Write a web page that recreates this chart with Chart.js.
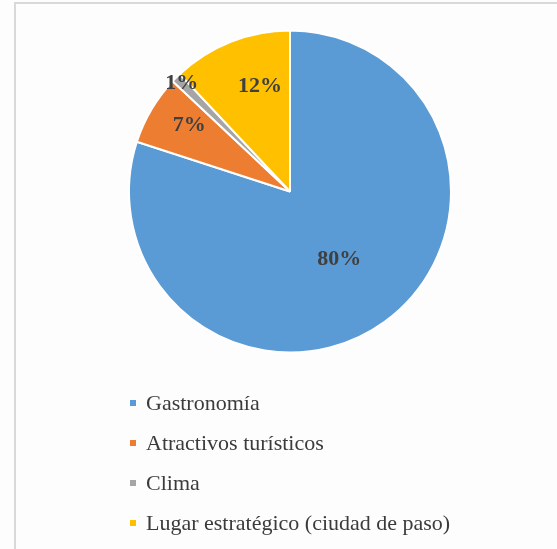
<!DOCTYPE html>
<html>
<head>
<meta charset="utf-8">
<script src="https://cdn.jsdelivr.net/npm/chart.js@4"></script>
<style>
  body { margin: 0; background: #fdfdfd; }
  #frame {
    position: absolute; left: 14px; top: 2px; width: 600px; height: 600px;
    border-left: 2px solid #d9d9d9; border-top: 2px solid #d9d9d9;
    box-sizing: border-box;
  }
  #wrap { position: absolute; left: 0; top: 0; width: 557px; height: 549px; }
  #legend {
    position: absolute; left: 130px; top: 383px;
    font-family: "Liberation Serif", serif; font-size: 22px; color: #3b3b3b;
  }
  .item { height: 40px; line-height: 40px; white-space: nowrap; }
  .box { display: inline-block; width: 6px; height: 6px; margin-right: 10px; vertical-align: middle; position: relative; top: -2px; }
</style>
</head>
<body>
<div id="frame"></div>
<div id="wrap"><canvas id="myChart" width="557" height="549"></canvas></div>
<div id="legend"></div>
<script>
const labels = ["Gastronomía", "Atractivos turísticos", "Clima", "Lugar estratégico (ciudad de paso)"]
const values = [80, 7, 1, 12]
const colors = ["#5b9bd5", "#ed7d31", "#a5a5a5", "#ffc000"]

// where each percent label sits: share of the radius, and a small turn (radians)
const labelRadius = [0.52, 0.75, 0.95, 0.68]
const labelTurn = [0, 0.05, 0, 0.1]

const legend = document.getElementById("legend")
labels.forEach((name, i) => {
    const row = document.createElement("div")
    row.className = "item"
    const box = document.createElement("span")
    box.className = "box"
    box.style.background = colors[i]
    row.appendChild(box)
    row.appendChild(document.createTextNode(name))
    legend.appendChild(row)
})

const percentLabels = {
    id: "percentLabels",
    afterDatasetsDraw(chart) {
        const ctx = chart.ctx
        const total = values.reduce((a, b) => a + b, 0)
        ctx.save()
        ctx.font = "bold 22px 'Liberation Serif'"
        ctx.fillStyle = "#404040"
        ctx.textAlign = "center"
        ctx.textBaseline = "middle"
        chart.getDatasetMeta(0).data.forEach((arc, i) => {
            const mid = (arc.startAngle + arc.endAngle) / 2 + labelTurn[i]
            const r = arc.outerRadius * labelRadius[i]
            const x = arc.x + Math.cos(mid) * r
            const y = arc.y + Math.sin(mid) * r
            ctx.fillText(Math.round(values[i] / total * 100) + "%", x, y)
        })
        ctx.restore()
    }
}

new Chart(document.getElementById("myChart"), {
    type: "pie",
    data: {
        labels: labels,
        datasets: [{
            data: values,
            backgroundColor: colors,
            borderColor: "#ffffff",
            borderWidth: 2
        }]
    },
    options: {
        responsive: false,
        animation: false,
        layout: { padding: { left: 128, right: 105, top: 29, bottom: 195 } },
        plugins: {
            legend: { display: false },
            tooltip: { enabled: false }
        }
    },
    plugins: [percentLabels]
})
</script>
</body>
</html>
